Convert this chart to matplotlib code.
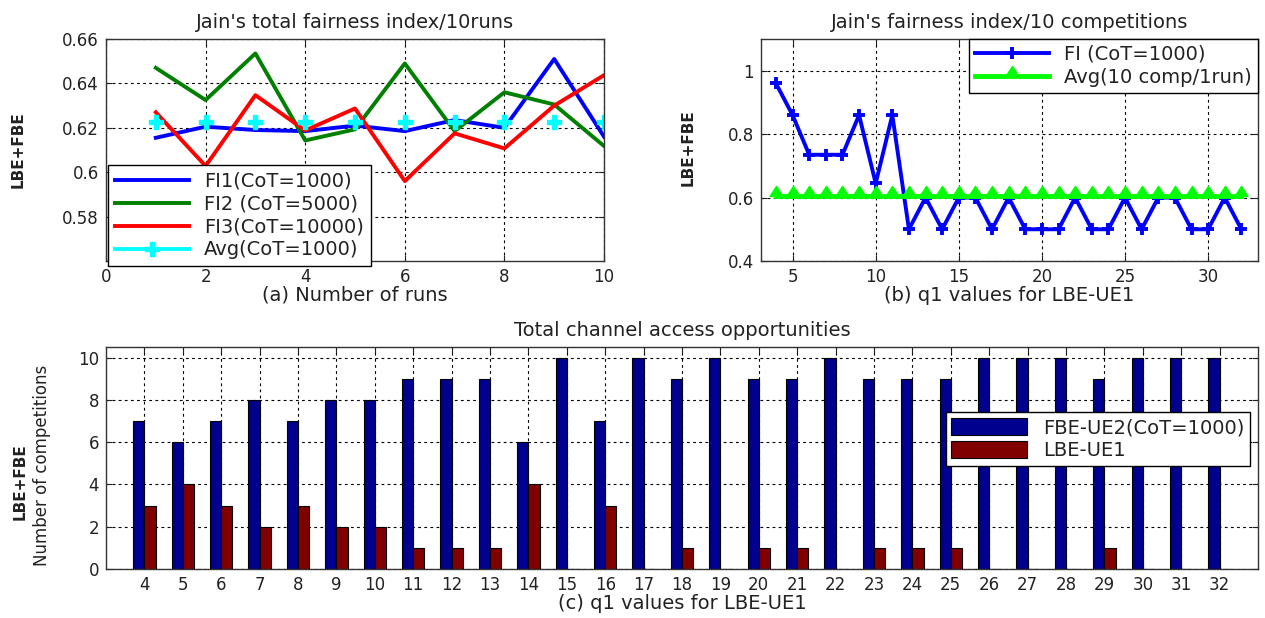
import matplotlib
matplotlib.use("Agg")
import matplotlib.pyplot as plt
import numpy as np
from matplotlib.path import Path
from matplotlib.lines import Line2D

# (a) Jain's total fairness index over 10 runs
runs = [1, 2, 3, 4, 5, 6, 7, 8, 9, 10]
fi1 = [0.6155, 0.6205, 0.619, 0.6185, 0.621, 0.6185, 0.6235, 0.620, 0.651, 0.616]
fi2 = [0.647, 0.6325, 0.6535, 0.6143, 0.6193, 0.649, 0.6185, 0.636, 0.6305, 0.6118]
fi3 = [0.627, 0.6028, 0.6347, 0.6188, 0.6287, 0.596, 0.6175, 0.6107, 0.630, 0.6437]
avg_a = [0.6225] * 10

# (b) fairness index per q1 value
q1 = list(range(4, 33))
fi_q1 = [0.96, 0.86, 0.735, 0.735, 0.735, 0.86, 0.645, 0.86, 0.5, 0.6,
         0.5, 0.6, 0.6, 0.5, 0.6, 0.5, 0.5, 0.5, 0.6, 0.5,
         0.5, 0.6, 0.5, 0.6, 0.6, 0.5, 0.5, 0.6, 0.5]
avg_b = [0.605] * len(q1)

# (c) channel access opportunities
fbe_ue2 = [7, 6, 7, 8, 7, 8, 8, 9, 9, 9, 6, 10, 7, 10, 9, 10, 9, 9, 10, 9,
           9, 9, 10, 10, 10, 9, 10, 10, 10]
lbe_ue1 = [3, 4, 3, 2, 3, 2, 2, 1, 1, 1, 4, 0, 3, 0, 1, 0, 1, 1, 0, 1,
           1, 1, 0, 0, 0, 1, 0, 0, 0]

W, H = 1265, 618
fig = plt.figure(figsize=(W / 100, H / 100), dpi=100)
plt.rcParams['font.family'] = ['DejaVu Sans']
txt = '#222222'
FS = 14      # titles / labels / legends
TS = 12      # tick labels


def box(l, r, t, b):
    return [l / W, 1 - b / H, (r - l) / W, (b - t) / H]


def style(ax):
    ax.grid(True, color='black', linestyle=(0, (2.5, 3)), linewidth=0.8)
    ax.set_axisbelow(True)
    ax.tick_params(direction='in', top=True, right=True, length=4,
                   labelsize=TS, colors=txt, pad=5)
    for s in ax.spines.values():
        s.set_color('#333333')
        s.set_linewidth(1.0)


def legend(ax, loc, anchor, **kw):
    opts = dict(fontsize=FS, handlelength=3.8, handletextpad=0.8,
                labelspacing=0.2, borderpad=0.35, fancybox=False,
                framealpha=1, edgecolor='black', borderaxespad=0)
    opts.update(kw)
    leg = ax.legend(loc=loc, bbox_to_anchor=(anchor[0] / W, 1 - anchor[1] / H),
                    bbox_transform=fig.transFigure, **opts)
    leg.get_frame().set_linewidth(1.0)
    for t in leg.get_texts():
        t.set_color(txt)
    return leg


tri = Path([(-1, 0), (1, 0), (0, 1.55), (-1, 0)],
           [Path.MOVETO, Path.LINETO, Path.LINETO, Path.CLOSEPOLY])

# ---- (a)
ax1 = fig.add_axes(box(106, 604, 39, 261))
l1, = ax1.plot(runs, fi1, color='#0000FF', lw=2.8)
l2, = ax1.plot(runs, fi2, color='#008000', lw=2.8)
l3, = ax1.plot(runs, fi3, color='#FF0000', lw=2.8)
ax1.plot(runs, avg_a, color='#00FFFF', linestyle='none', marker='P', ms=10)
l4 = Line2D([], [], color='#00FFFF', lw=2.8, marker='P', ms=10)
ax1.set_xlim(0, 10)
ax1.set_ylim(0.56, 0.66)
ax1.set_xticks([0, 2, 4, 6, 8, 10])
ax1.set_yticks([0.58, 0.6, 0.62, 0.64, 0.66])
ax1.set_yticklabels(['0.58', '0.6', '0.62', '0.64', '0.66'])
style(ax1)
ax1.set_title("Jain's total fairness index/10runs", fontsize=FS, color=txt, pad=8)
ax1.set_xlabel('(a) Number of runs', fontsize=FS, color=txt, labelpad=0)
legend(ax1, 'upper left', (108, 165), handles=[l1, l2, l3, l4],
       labels=['FI1(CoT=1000)', 'FI2 (CoT=5000)', 'FI3(CoT=10000)', 'Avg(CoT=1000)'])
fig.text(18 / W, 1 - 150 / H, 'LBE+FBE', rotation=90, fontsize=11,
         fontweight='bold', ha='center', va='center', color=txt)

# ---- (b)
ax2 = fig.add_axes(box(761, 1258, 39, 261))
ax2.plot(q1, fi_q1, color='#0000FF', lw=2.8, marker='+', ms=8.5, mew=2.8,
         label='FI (CoT=1000)')
ax2.plot(q1, avg_b, color='#00FF00', lw=3.5, marker=tri, ms=14.5,
         label='Avg(10 comp/1run)')
ax2.set_xlim(3.1, 33)
ax2.set_ylim(0.4, 1.1)
ax2.set_xticks([5, 10, 15, 20, 25, 30])
ax2.set_yticks([0.4, 0.6, 0.8, 1.0])
ax2.set_yticklabels(['0.4', '0.6', '0.8', '1'])
style(ax2)
ax2.set_title("Jain's fairness index/10 competitions", fontsize=FS, color=txt, pad=8)
ax2.set_xlabel('(b) q1 values for LBE-UE1', fontsize=FS, color=txt, labelpad=0)
legend(ax2, 'upper right', (1258, 39), borderpad=0.3)
fig.text(688 / W, 1 - 148 / H, 'LBE+FBE', rotation=90, fontsize=11,
         fontweight='bold', ha='center', va='center', color=txt)

# ---- (c)
ax3 = fig.add_axes(box(106, 1258, 347, 569))
x = np.array(q1)
bw = 0.29
ax3.bar(x - bw / 2, fbe_ue2, width=bw, color='#00008F', edgecolor='black',
        linewidth=0.8, label='FBE-UE2(CoT=1000)')
ax3.bar(x + bw / 2, lbe_ue1, width=bw, color='#800000', edgecolor='black',
        linewidth=0.8, label='LBE-UE1')
ax3.set_xlim(3, 33)
ax3.set_ylim(0, 10.5)
ax3.set_xticks(q1)
ax3.set_yticks([0, 2, 4, 6, 8, 10])
style(ax3)
ax3.set_title('Total channel access opportunities', fontsize=FS, color=txt, pad=8)
ax3.set_xlabel('(c) q1 values for LBE-UE1', fontsize=FS, color=txt, labelpad=0)
legend(ax3, 'upper right', (1250, 412), handleheight=1.0, borderpad=0.3,
       handlelength=3.9)
fig.text(20 / W, 1 - 482 / H, 'LBE+FBE', rotation=90, fontsize=11,
         fontweight='bold', ha='center', va='center', color=txt)
fig.text(42 / W, 1 - 465 / H, 'Number of competitions', rotation=90,
         fontsize=12, ha='center', va='center', color=txt)

fig.savefig('out.png', dpi=100)
